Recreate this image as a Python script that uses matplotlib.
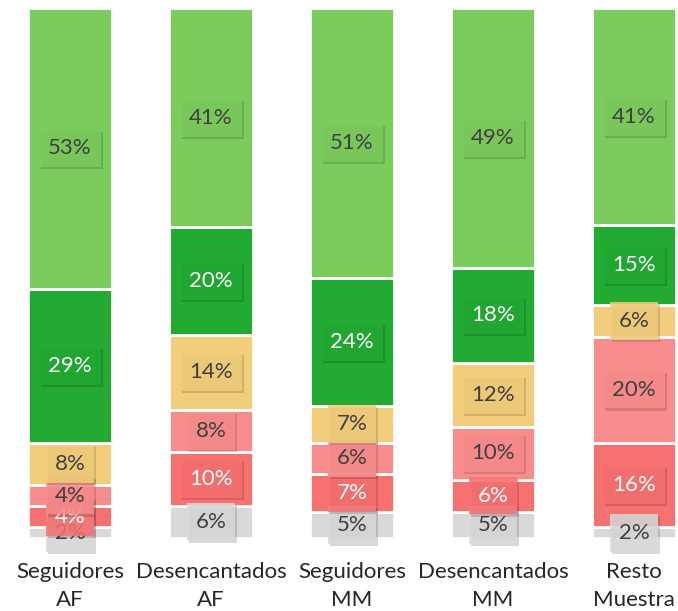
import matplotlib
matplotlib.use("Agg")
import matplotlib.pyplot as plt
import matplotlib.patheffects as pe
import numpy as np

categories = ["Seguidores\nAF", "Desencantados\nAF", "Seguidores\nMM", "Desencantados\nMM", "Resto\nMuestra"]
grey = [2, 6, 5, 5, 2]
red = [4, 10, 7, 6, 16]
light_red = [4, 8, 6, 10, 20]
yellow = [8, 14, 7, 12, 6]
dark_green = [29, 20, 24, 18, 15]
light_green = [53, 41, 51, 49, 41]

series = [grey, red, light_red, yellow, dark_green, light_green]
colors = ["#D9D9D9", "#F87171", "#F98D8D", "#F2CD7C", "#22AA33", "#7CCC5D"]
text_colors = ["#404040", "white", "#404040", "#404040", "white", "#404040"]

plt.rcParams['font.family'] = ['Lato', 'DejaVu Sans']

fig = plt.figure(figsize=(6.78, 6.11), dpi=100)
ax = fig.add_axes([0, 73/611, 1, (538-8)/611])
x = np.arange(len(categories))
totals = np.sum(np.array(series, dtype=float), axis=0)
bottom = np.zeros(len(categories))
for vals, col, tcol in zip(series, colors, text_colors):
    vals = np.array(vals, dtype=float)
    h = vals / totals * 100
    ax.bar(x, h, 0.6, bottom=bottom, color=col, edgecolor="white", linewidth=2)
    for xi, v, hh, b in zip(x, vals, h, bottom):
        t = ax.text(xi, b + hh / 2, f"{int(v)}%", ha="center", va="center", fontsize=16,
                    color=tcol, zorder=5,
                    bbox=dict(boxstyle="square,pad=0.4", facecolor=col, edgecolor="none", alpha=0.85))
        t.get_bbox_patch().set_path_effects([pe.SimplePatchShadow(offset=(1.5, -1.5), alpha=0.2), pe.Normal()])
    bottom += h

ax.set_ylim(0, 100)
ax.set_xlim(-70/141, (678-70)/141)
ax.set_xticks(x)
ax.set_xticklabels(categories, fontsize=16, color="#262626", linespacing=1.5)
ax.tick_params(axis="x", length=0, pad=17)
ax.set_yticks([])
for s in ax.spines.values():
    s.set_visible(False)

fig.savefig("out.png", dpi=100)
